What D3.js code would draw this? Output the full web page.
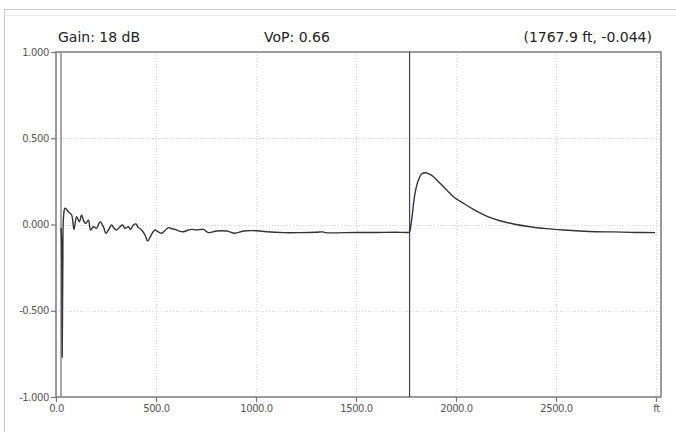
<!DOCTYPE html>
<html><head><meta charset="utf-8">
<script src="https://cdn.jsdelivr.net/npm/d3@7"></script>
<style>
html,body{margin:0;padding:0;background:#fff;}
svg{display:block;}
</style></head>
<body>
<svg id="c" width="676" height="432"></svg>
<script>
// ---- data ----
const headerGain = "Gain: 18 dB";
const headerVoP = "VoP: 0.66";
const cursorFt = 1767.9;
const cursorVal = -0.044;
const markerFt = 25;
const xTicks = [0, 500, 1000, 1500, 2000, 2500, 3000];
const xTickLabels = ["0.0", "500.0", "1000.0", "1500.0", "2000.0", "2500.0", "ft"];
const yTicks = [1, 0.5, 0, -0.5, -1];
const yTickLabels = ["1.000", "0.500", "0.000", "-0.500", "-1.000"];
const traceFt = [25,28,31,34,38,45,62,78,90,103,117,128,140,150,162,173,187,203,220,237,250,267,278,290,303,320,333,345,362,373,387,400,412,428,445,458,470,483,495,510,528,545,562,580,595,615,637,662,678,703,737,762,803,853,895,937,1003,1053,1137,1220,1300,1335,1345,1500,1600,1700,1760,1767,1778,1795,1812,1828,1850,1870,1887,1920,1953,1987,2037,2087,2153,2220,2287,2370,2453,2537,2620,2703,2787,2887,2995];
const traceVal = [-0.02,-0.1,-0.77,-0.25,0.05,0.094,0.074,0.055,-0.028,0.045,0.016,0.055,0.016,0.007,0.026,-0.032,-0.013,-0.022,0.016,-0.013,-0.051,-0.022,-0.003,-0.022,-0.032,-0.013,-0.003,-0.022,-0.013,-0.028,-0.003,0.003,-0.018,-0.032,-0.061,-0.096,-0.075,-0.047,-0.032,-0.042,-0.051,-0.035,-0.018,-0.025,-0.028,-0.038,-0.042,-0.032,-0.028,-0.032,-0.028,-0.047,-0.038,-0.038,-0.051,-0.038,-0.036,-0.042,-0.047,-0.047,-0.045,-0.043,-0.047,-0.046,-0.046,-0.045,-0.046,-0.044,0.026,0.18,0.258,0.293,0.30,0.29,0.277,0.239,0.2,0.161,0.123,0.088,0.049,0.022,0.003,-0.013,-0.024,-0.032,-0.038,-0.042,-0.043,-0.046,-0.047];

// ---- layout ----
const L = 56, R = 661, T = 52, B = 397;
const svg = d3.select("#c");
const x = d3.scaleLinear().domain([0, 3025]).range([L, R]);
const y = d3.scaleLinear().domain([-1, 1]).range([B, T]);

// outer frame
svg.append("rect").attr("x", 4.5).attr("y", 9.5).attr("width", 700).attr("height", 440)
  .attr("fill", "none").attr("stroke", "#c8c8c8").attr("stroke-width", 1);
svg.append("line").attr("x1", 5).attr("x2", 676).attr("y1", 15.5).attr("y2", 15.5)
  .attr("stroke", "#eeeeee").attr("stroke-width", 1);

// header
const hf = "'DejaVu Sans', Verdana, sans-serif";
svg.append("text").attr("x", 58).attr("y", 42).text(headerGain)
  .attr("font-family", hf).attr("font-size", 14).attr("fill", "#222");
svg.append("text").attr("x", 264).attr("y", 42).text(headerVoP)
  .attr("font-family", hf).attr("font-size", 14).attr("fill", "#222");
svg.append("text").attr("x", 652).attr("y", 42).attr("text-anchor", "end")
  .text(`(${cursorFt.toFixed(1)} ft, ${cursorVal.toFixed(3)})`)
  .attr("font-family", hf).attr("font-size", 14).attr("fill", "#222");

// grid
const grid = svg.append("g").attr("stroke", "#d8d8d8").attr("stroke-width", 1).attr("stroke-dasharray", "1,2");
xTicks.filter(d => d > 0).forEach(d => {
  grid.append("line").attr("x1", Math.round(x(d)) + 0.5).attr("x2", Math.round(x(d)) + 0.5).attr("y1", T).attr("y2", B);
});
yTicks.filter(d => d > -1 && d < 1).forEach(d => {
  grid.append("line").attr("x1", L).attr("x2", R).attr("y1", Math.round(y(d)) + 0.5).attr("y2", Math.round(y(d)) + 0.5);
});

// axes
const tf = "'DejaVu Sans', Tahoma, sans-serif";
const yAxis = d3.axisLeft(y).tickValues(yTicks).tickFormat((d, i) => yTickLabels[i]).tickSize(5).tickPadding(2);
const gy = svg.append("g").attr("transform", `translate(${L},0)`).call(yAxis);
const xAxis = d3.axisBottom(x).tickValues(xTicks).tickFormat((d, i) => xTickLabels[i]).tickSize(5).tickPadding(3);
const gx = svg.append("g").attr("transform", `translate(0,${B})`).call(xAxis);
[gx, gy].forEach(g => {
  g.select(".domain").remove();
  g.selectAll(".tick line").attr("stroke", "#777").attr("stroke-width", 1.2);
  g.selectAll(".tick text").attr("font-family", tf).attr("font-size", 10).attr("fill", "#555")
    .attr("letter-spacing", "-0.4");
});

// plot frame
svg.append("rect").attr("x", L).attr("y", T).attr("width", R - L).attr("height", B - T)
  .attr("fill", "none").attr("stroke", "#7a7a7a").attr("stroke-width", 1.5);

// start marker
svg.append("line").attr("x1", x(markerFt)).attr("x2", x(markerFt)).attr("y1", T).attr("y2", B)
  .attr("stroke", "#8a8a8a").attr("stroke-width", 1.5);

// cursor
svg.append("line").attr("x1", x(cursorFt)).attr("x2", x(cursorFt)).attr("y1", T).attr("y2", B)
  .attr("stroke", "#3b3d6e").attr("stroke-width", 1.2);

// trace
const pts = traceFt.map((f, i) => [f, traceVal[i]]);
const line = d3.line().x(d => x(d[0])).y(d => y(d[1])).curve(d3.curveCatmullRom.alpha(0.5));
svg.append("path").datum(pts).attr("d", line).attr("fill", "none")
  .attr("stroke", "#333").attr("stroke-width", 1.4).attr("stroke-linejoin", "round");
</script>
</body></html>
